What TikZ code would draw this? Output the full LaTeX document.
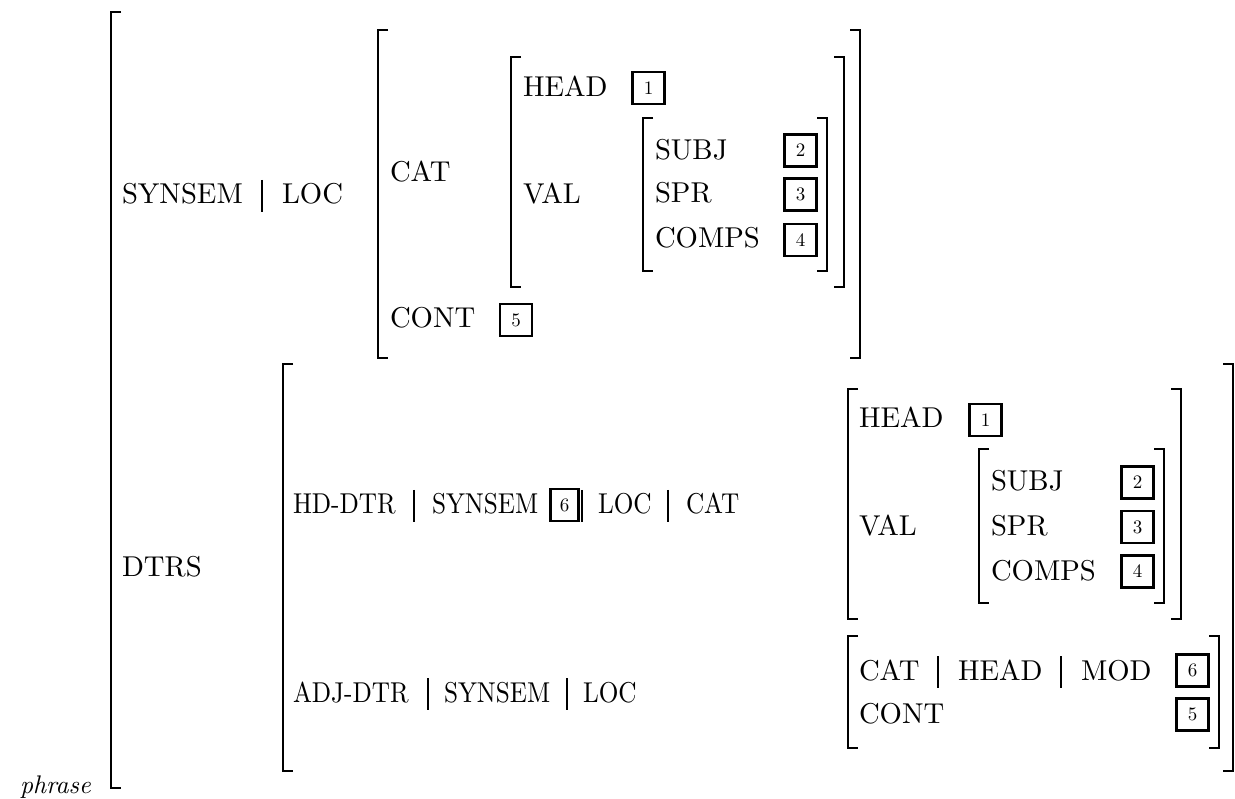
\documentclass[tikz,border=0pt]{standalone}
\usepackage{fontspec}
\setmainfont{lmroman10-regular.otf}[ItalicFont=lmroman10-italic.otf]
\usepackage{graphicx}
\usepackage{tikz}
\tikzset{
  lbl/.style={anchor=base west, inner sep=0pt, outer sep=0pt, font=\fontsize{28.7}{34}\selectfont},
  tagbox/.style={draw, line width=2.7pt, minimum width=32pt, minimum height=32pt, inner sep=0pt, font=\fontsize{19}{22}\selectfont},
  brk/.style={line width=1.8pt},
  outerbrk/.style={line width=2.7pt},
  sepbar/.style={line width=1.3pt},
}
\newcommand{\avmLeft}[4][brk]{\draw[#1] (#2+10,#3) -- (#2,#3) -- (#2,#4) -- (#2+10,#4);}
\newcommand{\avmRight}[3]{\draw[brk] (#1-10,#2) -- (#1,#2) -- (#1,#3) -- (#1-10,#3);}
\newcommand{\avmBar}[2]{\draw[sepbar] (#1,#2-24) -- (#1,#2+8);}
\newcommand{\narrow}[1]{\scalebox{0.88}[1]{#1}}
\begin{document}
\begin{tikzpicture}[x=1pt,y=-1pt]
\useasboundingbox (0,0) rectangle (1235,799);
% outer
\avmLeft[outerbrk]{111}{12}{788}
\node[lbl, font=\fontsize{25.5}{30}\selectfont\itshape] (phrase) at (20,793) {phrase};
% SYNSEM | LOC
\node[lbl] (synsem1) at (122,204) {SYNSEM};
\avmBar{262}{204}
\node[lbl] (loc1) at (282,204) {LOC};
\avmLeft{378}{30}{358}
\avmRight{860}{30}{358}
\node[lbl] (cat1) at (390,182) {CAT};
\node[lbl] (cont1) at (390,328) {CONT};
\node[tagbox] (t5a) at (516,320) {5};
\avmLeft{511}{57}{287}
\avmRight{844}{57}{287}
\node[lbl] (head1) at (523,97) {HEAD};
\node[tagbox] (t1a) at (648.5,88) {1};
\node[lbl] (val1) at (523,204) {VAL};
\avmLeft{643}{118}{271}
\avmRight{827}{118}{271}
\node[lbl] (subj1) at (655,160) {SUBJ};
\node[lbl] (spr1) at (655,203) {SPR};
\node[lbl] (comps1) at (655,248) {COMPS};
\node[tagbox] (t2a) at (800.5,150.5) {2};
\node[tagbox] (t3a) at (800.5,194.5) {3};
\node[tagbox] (t4a) at (800.5,240) {4};
% DTRS
\node[lbl] (dtrs) at (122,576) {DTRS};
\avmLeft{283}{364}{771}
\avmRight{1233}{364}{771}
\node[lbl] (hddtr) at (293,514) {\narrow{HD-DTR}};
\avmBar{414}{514}
\node[lbl] (synsem2) at (432,514) {\narrow{SYNSEM}};
\node[tagbox, minimum width=28pt, minimum height=32pt] (t6a) at (564.5,505) {6};
\avmBar{582}{514}
\node[lbl] (loc2) at (598,514) {\narrow{LOC}};
\avmBar{668}{514}
\node[lbl] (cat2) at (686,514) {\narrow{CAT}};
\avmLeft{848}{389}{619}
\avmRight{1181}{389}{619}
\node[lbl] (head2) at (859,428) {HEAD};
\node[tagbox] (t1b) at (985.5,420) {1};
\node[lbl] (val2) at (859,536) {VAL};
\avmLeft{979}{449}{603}
\avmRight{1164}{449}{603}
\node[lbl] (subj2) at (991,491) {SUBJ};
\node[lbl] (spr2) at (991,536) {SPR};
\node[lbl] (comps2) at (991,580) {COMPS};
\node[tagbox] (t2b) at (1137.5,482.5) {2};
\node[tagbox] (t3b) at (1137.5,527) {3};
\node[tagbox] (t4b) at (1137.5,571.5) {4};
% ADJ-DTR
\node[lbl] (adjdtr) at (293,702) {\narrow{ADJ-DTR}};
\avmBar{428}{702}
\node[lbl] (synsem3) at (444,702) {\narrow{SYNSEM}};
\avmBar{567}{702}
\node[lbl] (loc3) at (583,702) {\narrow{LOC}};
\avmLeft{848}{636}{748}
\avmRight{1219}{636}{748}
\node[lbl] (cat3) at (859,680) {CAT};
\avmBar{938}{680}
\node[lbl] (head3) at (958,680) {HEAD};
\avmBar{1061}{680}
\node[lbl] (mod3) at (1081,680) {MOD};
\node[tagbox] (t6b) at (1192.5,670.5) {6};
\node[lbl] (cont3) at (859,723) {CONT};
\node[tagbox] (t5b) at (1192.5,714.5) {5};
\end{tikzpicture}
\end{document}
